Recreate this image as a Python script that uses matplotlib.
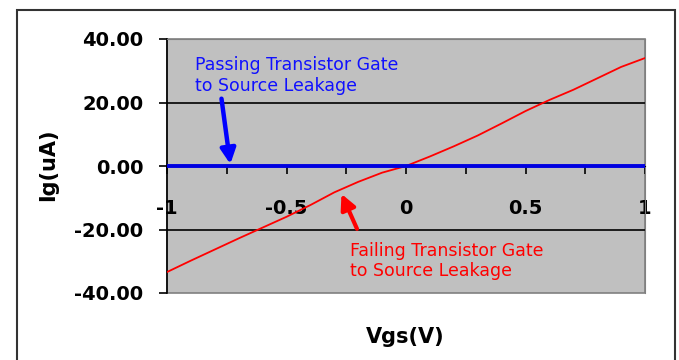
import matplotlib.pyplot as plt
from matplotlib.patches import Rectangle
from matplotlib.ticker import FixedLocator

plt.rcParams['axes.unicode_minus'] = False

# gate-to-source leakage sweep
vgs = [-1.0, -0.9, -0.8, -0.7, -0.6, -0.5, -0.4, -0.3, -0.2, -0.1, 0.0,
       0.1, 0.2, 0.3, 0.4, 0.5, 0.6, 0.7, 0.8, 0.9, 1.0]
ig_failing = [-33.4, -29.8, -26.3, -22.8, -19.4, -16.0, -12.3, -8.3, -5.0, -2.1, 0.0,
              3.0, 6.2, 9.6, 13.4, 17.3, 20.8, 24.0, 27.6, 31.2, 34.0]
ig_passing = [0.0, 0.0, 0.0, 0.0, 0.0, 0.0, 0.0, 0.0, 0.0, 0.0, 0.0,
              0.0, 0.0, 0.0, 0.0, 0.0, 0.0, 0.0, 0.0, 0.0, 0.0]

y_ticks = [-40, -20, 0, 20, 40]
y_labels = ['-40.00', '-20.00', '0.00', '20.00', '40.00']
x_ticks = [-1, -0.75, -0.5, -0.25, 0, 0.25, 0.5, 0.75, 1]
x_labels = ['-1', '', '-0.5', '', '0', '', '0.5', '', '1']

W, H = 679, 360
fig = plt.figure(figsize=(W / 100, H / 100), dpi=100)
fig.patch.set_facecolor('white')

# outer chart frame
fig.patches.append(Rectangle((17 / W, -0.1), (675 - 17) / W, 1.1 - 10 / H,
                             transform=fig.transFigure, fill=False,
                             edgecolor='#333333', linewidth=1.5))

ax = fig.add_axes([167 / W, (H - 293) / H, (645 - 167) / W, (293 - 39) / H])
ax.set_facecolor('#c0c0c0')
ax.patch.set_edgecolor('#808080')
ax.patch.set_linewidth(1.2)

ax.set_xlim(-1, 1)
ax.set_ylim(-40, 40)

for v in y_ticks[1:-1]:
    if v != 0:
        ax.axhline(v, color='black', linewidth=1.2, zorder=1)

ax.plot(vgs, ig_failing, color='#ff0000', linewidth=1.3, zorder=3)
ax.plot(vgs, ig_passing, color='#0000e0', linewidth=2.8, zorder=4)

ax.spines['bottom'].set_position(('data', 0))
ax.spines['bottom'].set_color('black')
ax.spines['left'].set_color('black')
ax.spines['left'].set_linewidth(1.2)
ax.spines['top'].set_color('#808080')
ax.spines['right'].set_color('#808080')

ax.yaxis.set_major_locator(FixedLocator(y_ticks))
ax.set_yticklabels(y_labels)
ax.xaxis.set_major_locator(FixedLocator(x_ticks))
ax.set_xticklabels(x_labels)

ax.tick_params(axis='y', direction='out', length=6, width=1.2, pad=11,
               labelsize=14, colors='black')
ax.tick_params(axis='x', direction='out', length=6, width=1.2, pad=18,
               labelsize=14, colors='black')
for lab in ax.get_xticklabels() + ax.get_yticklabels():
    lab.set_fontweight('bold')

fig.text(48 / W, 1 - 165 / H, 'Ig(uA)', rotation=90, ha='center', va='center',
         fontsize=15, fontweight='bold')
fig.text(405 / W, 1 - 337 / H, 'Vgs(V)', ha='center', va='center',
         fontsize=15, fontweight='bold')

ax.text(-0.883, 34.6, 'Passing Transistor Gate\nto Source Leakage',
        color='#1010ff', fontsize=12.5, ha='left', va='top', linespacing=1.2, zorder=5)
ax.annotate('', xy=(-0.735, 0.6), xytext=(-0.772, 21.2),
            arrowprops=dict(arrowstyle='-|>,head_length=0.9,head_width=0.45',
                            color='#0000ff', linewidth=3.2, shrinkA=0, shrinkB=0),
            zorder=6)

ax.text(-0.234, -23.8, 'Failing Transistor Gate\nto Source Leakage',
        color='#ff0000', fontsize=12.5, ha='left', va='top', linespacing=1.2, zorder=5)
ax.annotate('', xy=(-0.27, -8.8), xytext=(-0.205, -19.8),
            arrowprops=dict(arrowstyle='-|>,head_length=0.9,head_width=0.45',
                            color='#ff0000', linewidth=3.0, shrinkA=0, shrinkB=0),
            zorder=6)

fig.savefig('out.png', dpi=100)
